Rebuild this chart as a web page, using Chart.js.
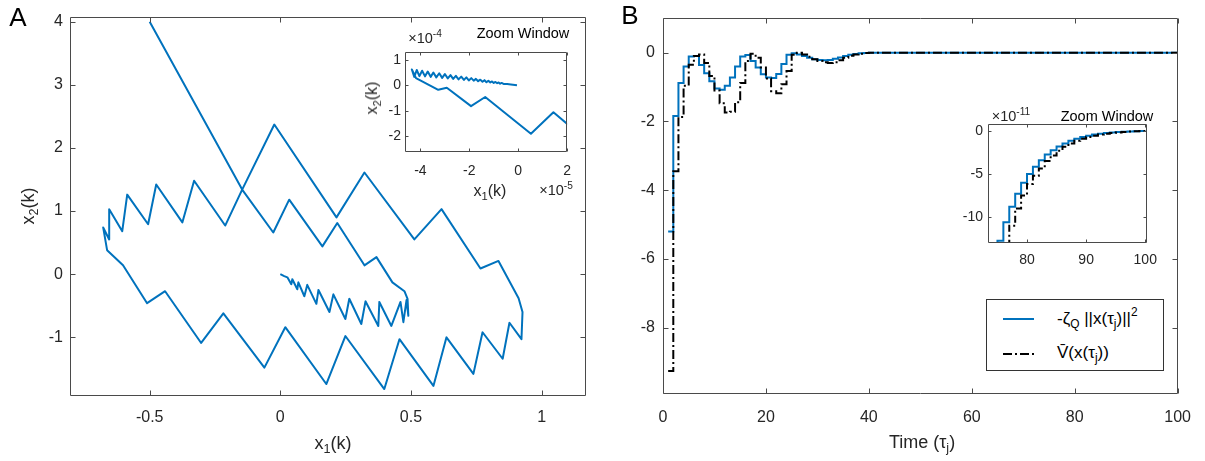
<!DOCTYPE html>
<html>
<head>
<meta charset="utf-8">
<script src="https://cdn.jsdelivr.net/npm/chart.js@4.4.1/dist/chart.umd.min.js"></script>
<style>
body { margin: 0; background: #fff; }
#wrap { position: relative; width: 1205px; height: 461px; overflow: hidden;
        font-family: 'Liberation Sans', Arial, sans-serif; color: #262626; }
canvas { position: absolute; }
.lbl { position: absolute; transform: translate(-50%, -50%); white-space: nowrap; line-height: 1; }
.rot { transform: translate(-50%, -50%) rotate(-90deg); }
.left { transform: translate(0, -50%); }
sub { font-size: 70%; vertical-align: -0.35em; line-height: 0; }
sup { font-size: 70%; vertical-align: 0.6em; line-height: 0; }
</style>
</head>
<body>
<div id="wrap">
  <canvas id="cA" width="600" height="461" style="left:0;top:0"></canvas>
  <canvas id="cAz" width="210" height="150" style="left:372px;top:40px"></canvas>
  <canvas id="cB" width="605" height="461" style="left:600px;top:0"></canvas>
  <canvas id="cBz" width="218" height="160" style="left:948px;top:110px"></canvas>

  <div class="lbl" style="left:18px;top:17px;font-size:26px;color:#000">A</div>
  <div class="lbl" style="left:630px;top:15px;font-size:26px;color:#000">B</div>

  <div class="lbl" style="left:333px;top:443px;font-size:18px">x<sub>1</sub>(k)</div>
  <div class="lbl rot" style="left:28px;top:206px;font-size:18px">x<sub>2</sub>(k)</div>

  <div class="lbl" style="left:523px;top:33px;font-size:14.5px;color:#000">Zoom Window</div>
  <div class="lbl" style="left:425px;top:38px;font-size:14.5px">&times;10<sup>-4</sup></div>
  <div class="lbl" style="left:490px;top:191px;font-size:16px">x<sub>1</sub>(k)</div>
  <div class="lbl rot" style="left:372px;top:98px;font-size:16px">x<sub>2</sub>(k)</div>
  <div class="lbl" style="left:556px;top:190px;font-size:14.5px">&times;10<sup>-5</sup></div>

  <div class="lbl" style="left:922px;top:442px;font-size:18px">Time (&tau;<sub>j</sub>)</div>
  <div class="lbl" style="left:1011px;top:116px;font-size:14.5px">&times;10<sup>-11</sup></div>
  <div class="lbl" style="left:1107px;top:116px;font-size:14.5px;color:#000">Zoom Window</div>

  <div style="position:absolute;left:986px;top:299px;width:176px;height:70px;border:1px solid #333;background:#fff;">
    <svg width="40" height="70" style="position:absolute;left:15px;top:0">
      <line x1="1" y1="19" x2="32" y2="19" stroke="#0072BD" stroke-width="2"/>
      <line x1="1" y1="54" x2="32" y2="54" stroke="#000" stroke-width="2" stroke-dasharray="9,3,2,3"/>
    </svg>
    <div class="lbl left" style="left:70px;top:18px;font-size:17px;color:#000">-&zeta;<sub>Q</sub> ||x(&tau;<sub>j</sub>)||<sup>2</sup></div>
    <div class="lbl left" style="left:70px;top:52px;font-size:17px;color:#000">V&#772;(x(&tau;<sub>j</sub>))</div>
  </div>
</div>
<script>
// ---- panel A: state trajectory
var x1 = [-0.50, -0.146, -0.023, 0.215, 0.322, 0.513, 0.617, 0.766, 0.835, 0.912, 0.927, 0.923, 0.877, 0.851,
          0.774, 0.739, 0.636, 0.586, 0.456, 0.398, 0.249, 0.176, 0.019, -0.061, -0.218, -0.303, -0.441, -0.510,
          -0.602, -0.663, -0.678, -0.655, -0.655, -0.605, -0.586, -0.506, -0.475, -0.375, -0.330, -0.211, -0.146,
          -0.027, 0.034, 0.161, 0.218, 0.322, 0.368, 0.429, 0.475, 0.487, 0.490, 0.483, 0.471, 0.460, 0.425, 0.379,
          0.375, 0.326, 0.310, 0.264, 0.249, 0.203, 0.188, 0.146, 0.138, 0.103, 0.092, 0.069, 0.065, 0.046, 0.042,
          0.027, 0.015, 0];
var x2 = [4.00, 1.34, 2.37, 0.90, 1.61, 0.55, 1.03, 0.09, 0.21, -0.38, -0.60, -1.03, -0.77, -1.34,
          -0.92, -1.58, -1.00, -1.77, -1.03, -1.82, -0.98, -1.74, -0.84, -1.48, -0.62, -1.09, -0.27, -0.46,
          0.14, 0.38, 0.74, 0.55, 1.03, 0.68, 1.26, 0.79, 1.42, 0.82, 1.48, 0.77, 1.34,
          0.66, 1.18, 0.44, 0.81, 0.14, 0.27, -0.13, -0.27, -0.39, -0.66, -0.41, -0.76, -0.44, -0.82, -0.44,
          -0.82, -0.43, -0.79, -0.39, -0.71, -0.32, -0.60, -0.25, -0.47, -0.17, -0.35, -0.13, -0.24, -0.08, -0.16,
          -0.05, -0.03, 0];

// zoom window A (x1 in 1e-5, x2 in 1e-4)
var x1Zoom = [2.03, 1.44, 0.52, -1.35, -1.93, -2.92, -3.27, -4.18, -4.35, -4.25, -4.15, -4.04, -3.93, -3.81, -3.70,
              -3.58, -3.47, -3.35, -3.23, -3.11, -3.00, -2.88, -2.77, -2.66, -2.55, -2.44, -2.33, -2.22, -2.12,
              -2.02, -1.92, -1.82, -1.73, -1.64, -1.55, -1.46, -1.38, -1.30, -1.22, -1.14, -1.07, -1.00, -0.93,
              -0.86, -0.80, -0.74, -0.68, -0.60, -0.45, -0.30, -0.05];
var x2Zoom = [-1.54, -1.06, -1.90, -0.46, -0.82, -0.10, -0.18, 0.28, 0.62, 0.33, 0.60, 0.36, 0.57, 0.35, 0.54,
              0.33, 0.50, 0.31, 0.47, 0.29, 0.44, 0.27, 0.40, 0.25, 0.37, 0.23, 0.34, 0.21, 0.31,
              0.19, 0.28, 0.18, 0.25, 0.16, 0.22, 0.14, 0.20, 0.12, 0.18, 0.11, 0.15, 0.09, 0.13,
              0.08, 0.11, 0.06, 0.09, 0.05, 0.05, 0.03, 0.0];

// ---- panel B: stairs over time
var tau = [1, 2, 3, 4, 5, 6, 7, 8, 9, 10, 11, 12, 13, 14, 15, 16, 17, 18, 19, 20,
           21, 22, 23, 24, 25, 26, 27, 28, 29, 30, 31, 32, 33, 34, 35, 36, 37, 38, 39, 40, 100];
var boundQ = [-5.20, -1.84, -0.88, -0.40, -0.11, -0.10, -0.36, -0.60, -0.83, -1.04, -1.08, -0.96, -0.72, -0.40,
              -0.11, -0.07, -0.24, -0.43, -0.63, -0.72, -0.74, -0.62, -0.33, -0.06, -0.02, -0.05, -0.10, -0.15,
              -0.19, -0.21, -0.22, -0.21, -0.18, -0.14, -0.10, -0.06, -0.04, -0.02, -0.01, 0, 0];
var vBar = [-9.26, -3.45, -1.87, -0.96, -0.35, -0.10, -0.05, -0.30, -0.68, -1.10, -1.47, -1.74, -1.72, -1.44,
            -0.88, -0.24, -0.03, -0.15, -0.43, -0.75, -1.12, -1.18, -0.92, -0.53, -0.06, 0.0, -0.05, -0.12,
            -0.19, -0.24, -0.28, -0.30, -0.28, -0.22, -0.15, -0.09, -0.05, -0.03, -0.01, 0, 0];

// zoom window B (values in 1e-11)
var tauZoomQ = [74, 75, 76, 77, 78, 79, 80, 81, 82, 83, 84, 85, 86, 87, 88, 89, 90, 91, 92, 93, 94, 95, 96, 97, 98, 99, 100];
var boundQZoom = [-16, -12.75, -10.6, -8.8, -7.3, -6.0, -5.0, -4.15, -3.4, -2.75, -2.25, -1.8, -1.45, -1.15,
                  -0.9, -0.7, -0.55, -0.42, -0.32, -0.24, -0.18, -0.13, -0.09, -0.06, -0.03, -0.01, -0.01];
var tauZoomV = [76, 77, 78, 79, 80, 81, 82, 83, 84, 85, 86, 87, 88, 89, 90, 91, 92, 93, 94, 95, 96, 97, 98, 99, 100];
var vBarZoom = [-14.5, -11.0, -9.0, -7.5, -6.15, -5.2, -4.35, -3.5, -2.85, -2.3, -1.85, -1.45, -1.15, -0.9,
                -0.7, -0.55, -0.42, -0.32, -0.24, -0.18, -0.12, -0.08, -0.05, -0.02, -0.01];

// tick values
var ticksAx = [-0.5, 0, 0.5, 1];
var ticksAy = [-1, 0, 1, 2, 3, 4];
var ticksAzx = [-4, -2, 0, 2];
var ticksAzy = [-2, -1, 0, 1];
var ticksBx = [0, 20, 40, 60, 80, 100];
var ticksBy = [-8, -6, -4, -2, 0];
var ticksBzx = [80, 90, 100];
var ticksBzy = [-10, -5, 0];

var BLUE = '#0072BD';
Chart.defaults.font.family = "'Liberation Sans', Arial, sans-serif";
Chart.defaults.color = '#262626';

function pts(xs, ys) {
    return xs.map(function (v, i) { return {x: v, y: ys[i]}; });
}

function axis(min, max, ticks, size, fontSize, pad, isY) {
    return {
        type: 'linear', min: min, max: max,
        grid: {display: false, drawTicks: false},
        border: {display: false},
        ticks: {padding: pad, font: {size: fontSize}, color: '#262626', autoSkip: false, maxRotation: 0,
                callback: function (v) { return String(v); }},
        afterBuildTicks: function (s) { s.ticks = ticks.map(function (v) { return {value: v}; }); },
        afterFit: function (s) { if (isY) s.width = size; else s.height = size; }
    };
}

// box around the axes with ticks pointing inwards on all four sides
var boxPlugin = {
    id: 'box',
    beforeDatasetsDraw: function (chart, args, o) {
        var a = chart.chartArea, ctx = chart.ctx;
        ctx.save();
        ctx.fillStyle = '#fff';
        ctx.fillRect(a.left, a.top, a.right - a.left, a.bottom - a.top);
        ctx.restore();
    },
    afterDatasetsDraw: function (chart, args, o) {
        var ctx = chart.ctx, a = chart.chartArea;
        var xs = chart.scales.x, ys = chart.scales.y;
        var L = Math.round(a.left) + 0.5, R = Math.round(a.right) - 0.5;
        var T = Math.round(a.top) + 0.5, B = Math.round(a.bottom) - 0.5;
        ctx.save();
        ctx.strokeStyle = o.color;
        ctx.lineWidth = 1;
        ctx.beginPath();
        xs.ticks.forEach(function (t) {
            var p = Math.round(xs.getPixelForValue(t.value)) + 0.5;
            ctx.moveTo(p, B); ctx.lineTo(p, B - o.len);
            ctx.moveTo(p, T); ctx.lineTo(p, T + o.len);
        });
        ys.ticks.forEach(function (t) {
            var p = Math.round(ys.getPixelForValue(t.value)) + 0.5;
            ctx.moveTo(L, p); ctx.lineTo(L + o.len, p);
            ctx.moveTo(R, p); ctx.lineTo(R - o.len, p);
        });
        ctx.rect(L, T, R - L, B - T);
        ctx.stroke();
        ctx.restore();
    }
};

function baseOptions(pad, xAx, yAx, len) {
    return {
        responsive: false, animation: false, events: [],
        layout: {padding: pad},
        scales: {x: xAx, y: yAx},
        plugins: {legend: {display: false}, tooltip: {enabled: false}, box: {color: '#4a4a4a', len: len}}
    };
}

function pathSet(xs, ys) {
    return {data: pts(xs, ys), showLine: true, borderColor: BLUE, borderWidth: 2, pointRadius: 0,
            tension: 0, borderJoinStyle: 'round', fill: false};
}

function stairSet(xs, ys, color, dash, order) {
    return {data: pts(xs, ys), borderColor: color, borderWidth: 2, borderDash: dash, pointRadius: 0,
            stepped: 'before', fill: false, order: order};
}

// panel A main
new Chart(document.getElementById('cA'), {
    type: 'scatter',
    data: {datasets: [pathSet(x1, x2)]},
    options: baseOptions({top: 16, right: 14, left: 0, bottom: 0},
        axis(-0.805, 1.17, ticksAx, 65, 16, 12, false),
        axis(-1.93, 4.08, ticksAy, 70, 16, 7, true), 5),
    plugins: [boxPlugin]
});

// panel A zoom window
new Chart(document.getElementById('cAz'), {
    type: 'scatter',
    data: {datasets: [pathSet(x1Zoom, x2Zoom)]},
    options: baseOptions({top: 4, right: 8, left: 0, bottom: 0},
        axis(-4.63, 2, ticksAzx, 38, 14, 11, false),
        axis(-2.62, 1.29, ticksAzy, 33, 14, 4, true), 3),
    plugins: [boxPlugin]
});

// panel B main
new Chart(document.getElementById('cB'), {
    type: 'line',
    data: {datasets: [
        stairSet(tau, boundQ, BLUE, [], 1),
        stairSet(tau, vBar, '#000', [9, 3, 2, 3], 0)
    ]},
    options: baseOptions({top: 13, right: 22, left: 0, bottom: 0},
        axis(0, 100, ticksBx, 67, 16, 14, false),
        axis(-9.93, 1.02, ticksBy, 63, 16, 8, true), 5),
    plugins: [boxPlugin]
});

// panel B zoom window
new Chart(document.getElementById('cBz'), {
    type: 'line',
    data: {datasets: [
        stairSet(tauZoomQ, boundQZoom, BLUE, [], 1),
        stairSet(tauZoomV, vBarZoom, '#000', [7, 3, 2, 3], 0)
    ]},
    options: baseOptions({top: 14, right: 7, left: 0, bottom: 0},
        axis(73.4, 100.3, ticksBzx, 27, 14, 9, false),
        axis(-13, 0.8, ticksBzy, 40, 14, 5, true), 3),
    plugins: [boxPlugin]
});
</script>
</body>
</html>
